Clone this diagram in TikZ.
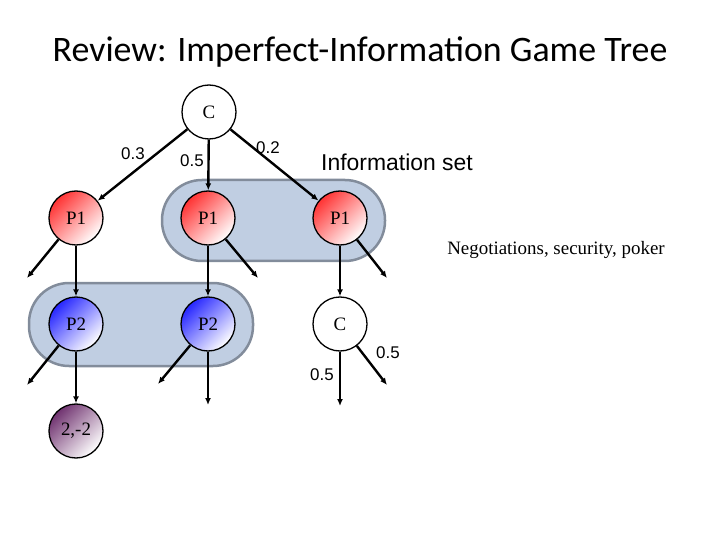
\documentclass[tikz,border=0pt]{standalone}
\usepackage{fontspec}
\setmainfont{Liberation Serif}
\newfontfamily\carl{Carlito}
\newfontfamily\lsans{Liberation Sans}
\usetikzlibrary{arrows.meta}
\definecolor{isfill}{RGB}{192,206,226}
\definecolor{isdraw}{RGB}{130,140,155}
\begin{document}
\begin{tikzpicture}[x=1bp,y=-1bp,
  nd/.style={circle,draw,line width=1.3bp,minimum size=54bp,inner sep=0pt,font=\fontsize{19}{19}\selectfont},
  red/.style={nd,left color=red!80,right color=white,shading angle=45},
  blu/.style={nd,left color=blue!85,right color=white,shading angle=45},
  pur/.style={nd,left color=violet!60!black!80,right color=white,shading angle=45},
  ar/.style={line width=2.4bp,-{Latex[length=7bp,width=6bp]}},
  iset/.style={fill=isfill,draw=isdraw,line width=2.5bp,rounded corners=40bp},
  lb/.style={font=\lsans\fontsize{17}{17}\selectfont}]
\useasboundingbox (0,0) rectangle (720,540);
\node[font=\carl\fontsize{36}{36}\selectfont] (title) at (360,52) {Review: Imperfect-Information Game Tree};
\draw[iset] (162,180) rectangle (385,261);
\draw[iset] (29,283) rectangle (253,366);
\node[nd] (c0) at (209,112) {C};
\node[red] (a) at (76,218) {P1};
\node[red] (b) at (208,218) {P1};
\node[red] (d) at (340,218) {P1};
\node[blu] (e) at (76,324) {P2};
\node[blu] (f) at (208,324) {P2};
\node[nd] (c1) at (340,324) {C};
\node[pur] (g) at (76,431) {2,-2};
\coordinate (t1) at (27,278); \coordinate (t2) at (258,278);
\coordinate (t3) at (387,278); \coordinate (t4) at (27,385);
\coordinate (t5) at (158,384); \coordinate (t6) at (208,405);
\coordinate (t7) at (340,406); \coordinate (t8) at (387,385);
\draw[ar] (c0) -- (a); \draw[ar] (c0) -- (b); \draw[ar] (c0) -- (d);
\draw[ar] (a) -- (t1); \draw[ar] (a) -- (e);
\draw[ar] (b) -- (f); \draw[ar] (b) -- (t2);
\draw[ar] (d) -- (c1); \draw[ar] (d) -- (t3);
\draw[ar] (e) -- (t4); \draw[ar] (e) -- (g);
\draw[ar] (f) -- (t5); \draw[ar] (f) -- (t6);
\draw[ar] (c1) -- (t7); \draw[ar] (c1) -- (t8);
\node[lb] (l1) at (133,154) {0.3};
\node[lb] (l2) at (192,161) {0.5};
\node[lb] (l3) at (268,148) {0.2};
\node[lb] (l4) at (322,375) {0.5};
\node[lb] (l5) at (388,353) {0.5};
\node[font=\lsans\fontsize{23}{23}\selectfont] (is) at (397,162) {Information set};
\node[font=\fontsize{19}{19}\selectfont] (neg) at (556,250) {Negotiations, security, poker};
\end{tikzpicture}
\end{document}
